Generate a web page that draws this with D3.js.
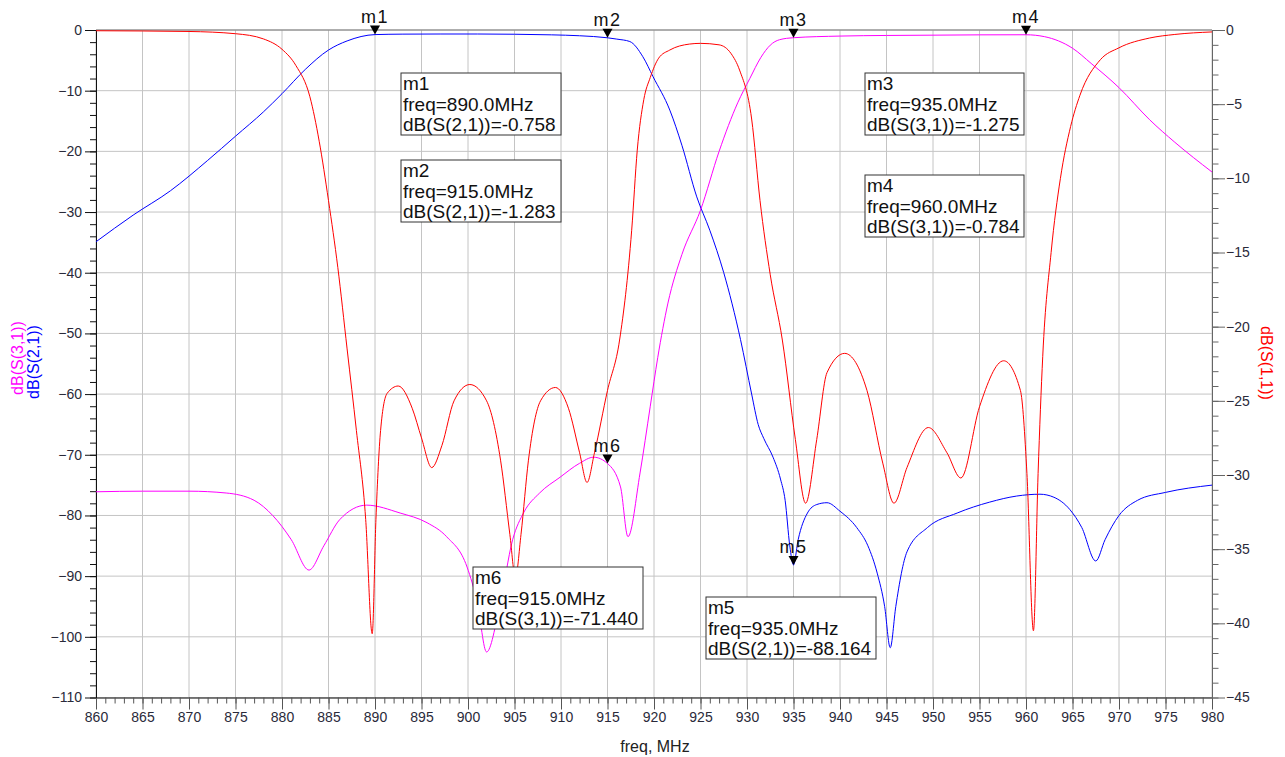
<!DOCTYPE html>
<html>
<head>
<meta charset="utf-8">
<script src="https://cdn.jsdelivr.net/npm/d3@7"></script>
<style>
body { margin: 0; background: #fff; }
svg { font-family: "Liberation Sans", Arial, sans-serif; }
</style>
</head>
<body>
<div id="chart"></div>
<script>
// S21 (blue, left axis)
let s21Freq = [860, 864, 868, 872, 875, 878, 880, 882.5, 885, 887, 890, 893, 897, 901, 905, 909, 912, 915, 916, 917.4, 918.8, 919.9, 921.7, 923, 924.6, 926, 927.5, 929.3, 930.5, 931.2, 931.8, 932.8, 933.6, 934.1, 934.6, 935, 935.5, 936.5, 937.5, 938.6, 940, 941.8, 943, 944, 944.8, 945.4, 946, 947.2, 949.4, 952.6, 956.1, 959, 961.5, 963, 964.7, 966, 967.5, 968.5, 970, 972, 975, 980]
let s21Db = [-34.9, -30.5, -26.5, -21.5, -17.5, -13.5, -10.5, -6.5, -3.3, -1.8, -0.758, -0.68, -0.66, -0.66, -0.7, -0.8, -0.95, -1.283, -1.5, -1.9, -4.4, -7.7, -13.2, -19, -27.5, -33, -40, -51, -60, -65, -67.3, -70.4, -74, -77.5, -85, -88.164, -84, -79.6, -78.2, -77.9, -79.3, -82, -85, -89.5, -95, -101.8, -95, -86, -82, -79.6, -77.8, -76.8, -76.5, -77, -79, -82, -87.5, -84, -80, -77.5, -76.2, -75]

// S31 (magenta, left axis)
let s31Freq = [860, 865, 870, 874, 877, 879, 881, 882.9, 884.5, 886.2, 889.1, 892.7, 895.6, 897.7, 899.9, 901, 902, 903.4, 904.8, 906, 907.7, 909.9, 912, 913.5, 915, 916.4, 917.2, 918.5, 919.6, 920.4, 921.5, 923, 925, 927, 929, 930.3, 931.5, 932.5, 933.5, 935, 940, 945, 950, 955, 960, 962, 963.5, 965, 967, 970, 973.3, 976, 980]
let s31Db = [-76.1, -76, -76, -76.3, -77.5, -80, -84, -89, -85, -80.7, -78.3, -79.6, -81.2, -83.5, -88.5, -94.4, -102.5, -95, -84, -79.5, -76.3, -73.7, -71.4, -70.4, -71.44, -75.3, -83.5, -73, -62, -54, -45, -37, -29.7, -20, -12, -8, -4.5, -2.5, -1.6, -1.275, -1.0, -0.9, -0.85, -0.8, -0.784, -1.1, -1.8, -3, -5.5, -9.5, -14.8, -18.5, -23.4]

// S11 (red, right axis)
let s11Freq = [860, 870, 875, 878, 880, 881.5, 883, 884, 885, 886, 887, 888, 889, 889.7, 890.1, 890.6, 891.3, 892.5, 894, 895, 896.1, 897.2, 898.5, 900.2, 902, 903.5, 904.5, 905.1, 905.7, 906.5, 907.8, 909.4, 910.8, 912, 912.8, 913.6, 915, 916.3, 917.6, 918.2, 918.9, 919.6, 920.5, 921.7, 923.8, 925, 927, 928.3, 929.2, 930.5, 931.4, 932.5, 933.8, 935.2, 936.3, 937.5, 938.6, 940.5, 942.9, 944.6, 945.8, 947.2, 949.5, 951.5, 953, 955, 957.6, 959.4, 960.1, 960.8, 961.3, 961.8, 962.7, 963.7, 964.8, 965.8, 968, 970, 973.3, 976, 980]
let s11Db = [-0.05, -0.1, -0.25, -0.6, -1.3, -2.4, -4.5, -7.5, -11.5, -16, -21.5, -27, -33, -40.7, -33, -27, -24.5, -24.0, -25.5, -27.5, -29.5, -28, -25, -23.9, -25, -29, -34, -36.9, -34, -29, -25, -24.1, -25.5, -28.5, -30.5, -28.5, -24.3, -20.9, -13.5, -8.1, -4.7, -3.2, -1.9, -1.35, -0.95, -0.9, -1.0, -1.6, -2.7, -6, -11.5, -16.5, -20.9, -27.6, -31.9, -27.6, -23.1, -21.8, -24.3, -29.2, -31.9, -29.5, -26.8, -28.5, -30.2, -25.4, -22.3, -24.3, -29.9, -40.5, -29.9, -22, -15, -10, -6.5, -4.4, -2.0, -1.2, -0.54, -0.3, -0.13]

// markers
let markerNames = ["m1", "m2", "m3", "m4", "m5", "m6"]
let markerFreq = [890, 915, 935, 960, 935, 915]
let markerDb = [-0.758, -1.283, -1.275, -0.784, -88.164, -71.440]
let markerTrace = ["dB(S(2,1))", "dB(S(2,1))", "dB(S(3,1))", "dB(S(3,1))", "dB(S(2,1))", "dB(S(3,1))"]

// ticks
let freqTicks = d3.range(860, 981, 5)
let leftTicks = d3.range(0, -111, -10)
let rightTicks = d3.range(0, -46, -5)

let width = 1285, height = 757
let margin = {top: 30, right: 73, bottom: 59.5, left: 96}

let svg = d3.select("#chart").append("svg")
    .attr("width", width)
    .attr("height", height)

let x = d3.scaleLinear().domain([860, 980]).range([margin.left, width - margin.right])
let yL = d3.scaleLinear().domain([0, -110]).range([margin.top, height - margin.bottom])
let yR = d3.scaleLinear().domain([0, -45]).range([margin.top, height - margin.bottom])

// grid
svg.append("g")
    .selectAll("line")
    .data(freqTicks)
    .join("line")
    .attr("x1", d => x(d)).attr("x2", d => x(d))
    .attr("y1", yL(0)).attr("y2", yL(-110))
    .attr("stroke", "#c4c4c4")

svg.append("g")
    .selectAll("line")
    .data(leftTicks)
    .join("line")
    .attr("x1", x(860)).attr("x2", x(980))
    .attr("y1", d => yL(d)).attr("y2", d => yL(d))
    .attr("stroke", "#c4c4c4")

// top frame
svg.append("line")
    .attr("x1", x(860)).attr("x2", x(980))
    .attr("y1", yL(0)).attr("y2", yL(0))
    .attr("stroke", "#7a7a7a")

// axes
let styleAxis = (g, col) => {
    g.selectAll("path").attr("stroke", col)
    g.selectAll("line").attr("stroke", col)
    g.selectAll("text").attr("fill", "#2a2a3a").attr("font-size", 14)
        .attr("font-family", "'Liberation Sans', Arial, sans-serif")
}

svg.append("g")
    .attr("transform", `translate(0,${yL(-110)})`)
    .call(d3.axisBottom(x).tickValues(d3.range(860, 981, 1)).tickSize(6).tickFormat("").tickSizeOuter(0))
    .call(g => styleAxis(g, "#555"))
svg.append("g")
    .attr("transform", `translate(0,${yL(-110)})`)
    .call(d3.axisBottom(x).tickValues(freqTicks).tickSize(12).tickSizeOuter(0).tickPadding(3))
    .call(g => styleAxis(g, "#555"))

svg.append("g")
    .attr("transform", `translate(${x(860)},0)`)
    .call(d3.axisLeft(yL).tickValues(d3.range(0, -111, -2)).tickSize(6).tickFormat("").tickSizeOuter(0))
    .call(g => styleAxis(g, "#111"))
svg.append("g")
    .attr("transform", `translate(${x(860)},0)`)
    .call(d3.axisLeft(yL).tickValues(leftTicks).tickSize(11).tickSizeOuter(0).tickPadding(3))
    .call(g => styleAxis(g, "#111"))

svg.append("g")
    .attr("transform", `translate(${x(980)},0)`)
    .call(d3.axisRight(yR).tickValues(d3.range(0, -46, -1)).tickSize(6.5).tickFormat("").tickSizeOuter(0))
    .call(g => styleAxis(g, "#666"))
svg.append("g")
    .attr("transform", `translate(${x(980)},0)`)
    .call(d3.axisRight(yR).tickValues(rightTicks).tickSize(13).tickSizeOuter(0).tickPadding(1))
    .call(g => styleAxis(g, "#666"))

// axis titles
svg.append("text")
    .attr("x", 655).attr("y", 752)
    .attr("text-anchor", "middle")
    .attr("font-size", 16).attr("fill", "#222")
    .text("freq, MHz")

svg.append("text")
    .attr("transform", "translate(23,358) rotate(-90)")
    .attr("text-anchor", "middle")
    .attr("font-size", 16).attr("fill", "#ff00ff")
    .text("dB(S(3,1))")
svg.append("text")
    .attr("transform", "translate(39,362) rotate(-90)")
    .attr("text-anchor", "middle")
    .attr("font-size", 16).attr("fill", "#0000ff")
    .text("dB(S(2,1))")
svg.append("text")
    .attr("transform", "translate(1261,363) rotate(90)")
    .attr("text-anchor", "middle")
    .attr("font-size", 16).attr("fill", "#ff0000")
    .text("dB(S(1,1))")

// traces
let traces = [
    {f: s21Freq, v: s21Db, y: yL, color: "#0000ff"},
    {f: s31Freq, v: s31Db, y: yL, color: "#ff00ff"},
    {f: s11Freq, v: s11Db, y: yR, color: "#ff0000"}
]

svg.append("g")
    .selectAll("path")
    .data(traces)
    .join("path")
    .attr("fill", "none")
    .attr("stroke", d => d.color)
    .attr("stroke-width", 1)
    .attr("d", t => d3.line().curve(d3.curveMonotoneX)
        .x(i => x(t.f[i])).y(i => t.y(t.v[i]))(d3.range(t.f.length)))

// marker triangles and names
let mk = svg.append("g")
    .selectAll("g")
    .data(markerNames)
    .join("g")
    .attr("transform", (d, i) => `translate(${x(markerFreq[i])},${yL(markerDb[i])})`)
mk.append("path")
    .attr("d", "M-5,-9L5,-9L0,0Z")
    .attr("fill", "#000")
mk.append("text")
    .attr("y", -12)
    .attr("text-anchor", "middle")
    .attr("font-size", 18).attr("fill", "#111")
    .attr("letter-spacing", 1.5)
    .text(d => d)

// marker readout boxes
let boxPos = [[401, 73], [401, 160], [865, 73], [865, 175], [706, 597], [473, 567]]
let boxW = [160, 160, 159, 159, 170, 170]

let boxes = svg.append("g")
    .selectAll("g")
    .data(markerNames)
    .join("g")
    .attr("transform", (d, i) => `translate(${boxPos[i][0]},${boxPos[i][1]})`)
boxes.append("rect")
    .attr("width", (d, i) => boxW[i]).attr("height", 62)
    .attr("fill", "#fff").attr("stroke", "#333")
boxes.selectAll("text")
    .data((d, i) => [d, `freq=${markerFreq[i].toFixed(1)}MHz`, `${markerTrace[i]}=${markerDb[i].toFixed(3)}`])
    .join("text")
    .attr("x", 2)
    .attr("y", (d, j) => 17 + j * 20.5)
    .attr("font-size", 19).attr("fill", "#111")
    .text(d => d)
</script>
</body>
</html>
